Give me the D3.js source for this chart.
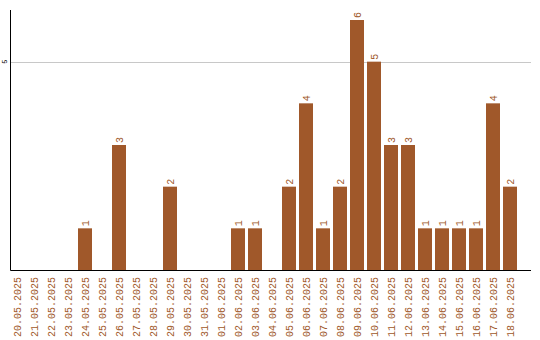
<!DOCTYPE html>
<html lang="en">
    <head>
        <meta charset="UTF-8">
        <script src="https://d3js.org/d3.v7.min.js"></script>
        <style>
            body { margin: 0; background: #fff; }
        </style>
    </head>
    <body>
        <div id="container"></div>
    </body>
    <script>
        const dates = ['20.05.2025','21.05.2025','22.05.2025','23.05.2025','24.05.2025','25.05.2025',
            '26.05.2025','27.05.2025','28.05.2025','29.05.2025','30.05.2025','31.05.2025',
            '01.06.2025','02.06.2025','03.06.2025','04.06.2025','05.06.2025','06.06.2025',
            '07.06.2025','08.06.2025','09.06.2025','10.06.2025','11.06.2025','12.06.2025',
            '13.06.2025','14.06.2025','15.06.2025','16.06.2025','17.06.2025','18.06.2025'];
        const counts = [0,0,0,0,1,0,3,0,0,2,0,0,0,1,1,0,2,4,1,2,6,5,3,3,1,1,1,1,4,2];
        const yTicks = [5];

        const width = 540, height = 340;
        const left = 10.5, bottom = 270.5, right = 531;
        const barColor = '#a0582a';
        const font = '"Liberation Mono", "DejaVu Sans Mono", monospace';

        const svg = d3.select('#container')
            .append('svg')
            .attr('width', width)
            .attr('height', height);

        const x = d3.scaleBand()
            .domain(dates)
            .range([8.5, 518.5])
            .paddingInner(3 / 17)
            .paddingOuter(1.5 / 17);

        const y = d3.scaleLinear()
            .domain([0, 6])
            .range([270, 20]);

        // grid line
        svg.append('g')
            .selectAll('line')
            .data(yTicks)
            .enter()
            .append('line')
            .attr('x1', left)
            .attr('x2', right)
            .attr('y1', d => Math.round(y(d)) + 0.5)
            .attr('y2', d => Math.round(y(d)) + 0.5)
            .style('stroke', '#c8c8c8');

        svg.append('g')
            .selectAll('text')
            .data(yTicks)
            .enter()
            .append('text')
            .attr('transform', d => `translate(7, ${y(d)}) rotate(-90)`)
            .attr('text-anchor', 'middle')
            .style('font-size', '7px')
            .style('font-family', font)
            .style('fill', 'black')
            .text(d => d);

        const data = dates.map((d, i) => ({date: d, value: counts[i]}));

        svg.append('g')
            .selectAll('rect')
            .data(data)
            .enter()
            .append('rect')
            .attr('x', d => x(d.date))
            .attr('width', x.bandwidth())
            .attr('y', d => y(d.value))
            .attr('height', d => y(0) - y(d.value))
            .attr('fill', barColor);

        // value labels
        svg.append('g')
            .selectAll('text')
            .data(data.filter(d => d.value > 0))
            .enter()
            .append('text')
            .attr('transform', d => `translate(${x(d.date) + x.bandwidth() / 2 + 3.5}, ${y(d.value) - 2}) rotate(-90)`)
            .style('font-size', '10px')
            .style('font-family', font)
            .style('fill', barColor)
            .text(d => d.value);

        // date labels
        svg.append('g')
            .selectAll('text')
            .data(dates)
            .enter()
            .append('text')
            .attr('transform', d => `translate(${x(d) + x.bandwidth() / 2 + 4}, 277) rotate(-90)`)
            .attr('text-anchor', 'end')
            .style('font-size', '10px')
            .style('font-family', font)
            .style('fill', barColor)
            .text(d => d);

        // axes
        svg.append('line')
            .attr('x1', left).attr('x2', left)
            .attr('y1', 10).attr('y2', bottom)
            .style('stroke', 'black');

        svg.append('line')
            .attr('x1', left).attr('x2', right)
            .attr('y1', bottom).attr('y2', bottom)
            .style('stroke', 'black');
    </script>
</html>
